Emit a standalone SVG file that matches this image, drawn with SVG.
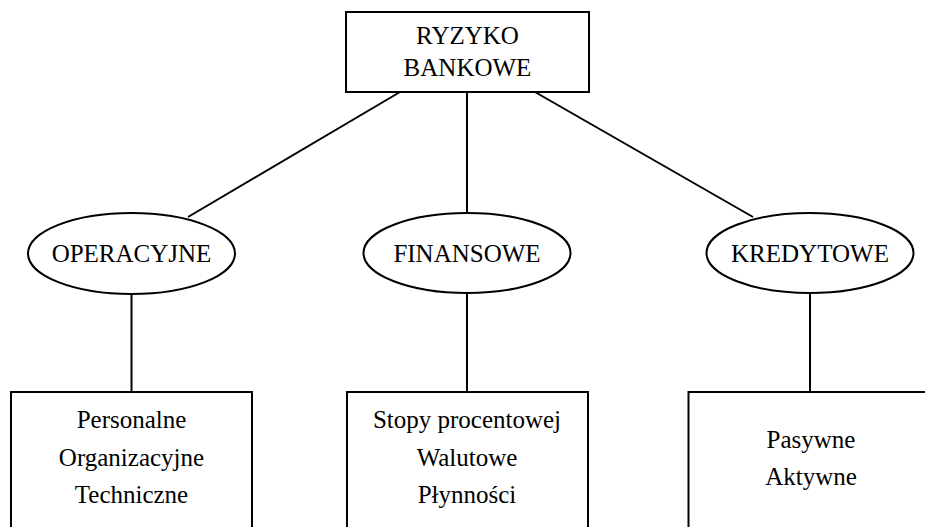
<svg xmlns="http://www.w3.org/2000/svg" width="925" height="527" viewBox="0 0 925 527">
<style>
.box{fill:#fff;stroke:#000;stroke-width:2}
.ell{fill:#fff;stroke:#000;stroke-width:2}
.ln{stroke:#000;stroke-width:2;fill:none}
text{font-family:"Liberation Serif","Times New Roman",serif;font-size:25px;fill:#000;text-anchor:middle}
</style>
<rect width="925" height="527" fill="#fff"/>
<g id="connectors">
<line class="ln" x1="400" y1="92" x2="188" y2="217"/>
<line class="ln" x1="467" y1="92" x2="467" y2="213"/>
<line class="ln" x1="535" y1="92" x2="753" y2="217"/>
<line class="ln" x1="131.5" y1="294" x2="131.5" y2="392"/>
<line class="ln" x1="467" y1="293" x2="467" y2="392"/>
<line class="ln" x1="810" y1="293" x2="810" y2="392"/>
</g>
<g id="root">
<rect class="box" x="346" y="12" width="243" height="80"/>
<text x="467.5" y="44">RYZYKO</text>
<text x="467.5" y="76">BANKOWE</text>
</g>
<g id="operacyjne">
<ellipse class="ell" cx="131.5" cy="253.5" rx="103.5" ry="40.5"/>
<text x="131.5" y="262">OPERACYJNE</text>
</g>
<g id="finansowe">
<ellipse class="ell" cx="467" cy="253" rx="103.5" ry="40"/>
<text x="467" y="262">FINANSOWE</text>
</g>
<g id="kredytowe">
<ellipse class="ell" cx="810" cy="253" rx="103.5" ry="40"/>
<text x="810" y="262">KREDYTOWE</text>
</g>
<g id="operacyjne-list">
<rect class="box" x="11" y="392" width="241" height="150"/>
<text x="131.5" y="428">Personalne</text>
<text x="131.5" y="466">Organizacyjne</text>
<text x="131.5" y="503">Techniczne</text>
</g>
<g id="finansowe-list">
<rect class="box" x="347" y="392" width="241" height="150"/>
<text x="467" y="428">Stopy procentowej</text>
<text x="467" y="466">Walutowe</text>
<text x="467" y="503">Płynności</text>
</g>
<g id="kredytowe-list">
<rect class="box" x="688.5" y="392" width="243" height="150"/>
<text x="811" y="448">Pasywne</text>
<text x="811" y="485">Aktywne</text>
</g>
</svg>
